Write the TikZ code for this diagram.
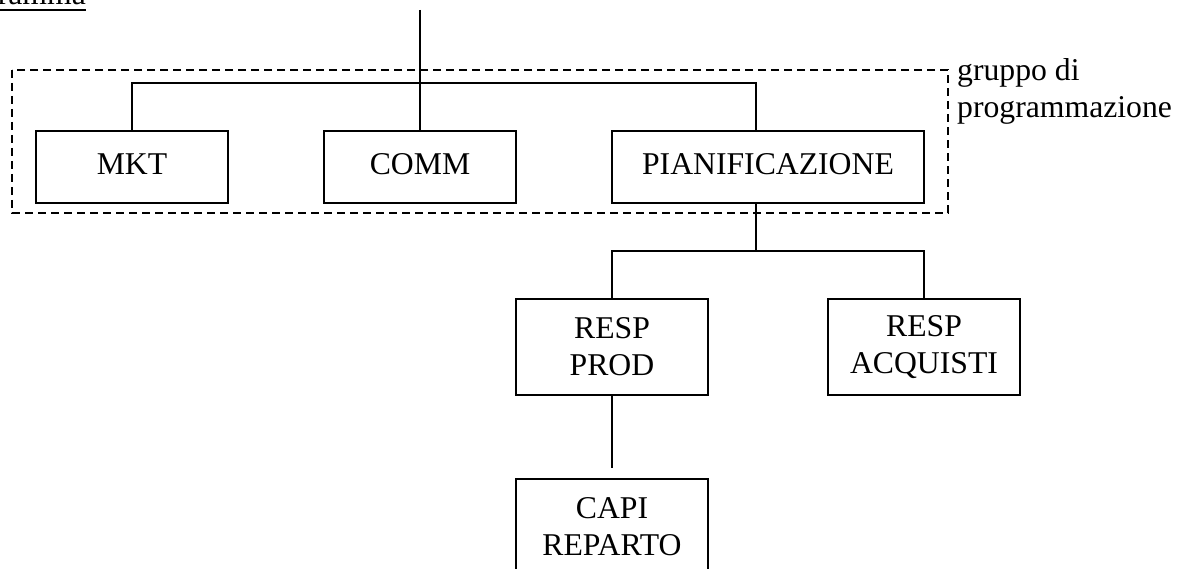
\documentclass[tikz,border=0pt]{standalone}
\usepackage{fontspec}
\setmainfont{Liberation Serif}
\usepackage{tikz}
\usetikzlibrary{positioning, calc}
\newcommand{\chartfont}{\fontsize{31.7pt}{37pt}\selectfont}
\tikzset{
  block/.style={rectangle, draw=black, minimum width=192pt, minimum height=72pt,
    inner sep=0pt, outer sep=0pt, align=center, font=\chartfont, line width=2pt},
  tallblock/.style={block, minimum height=96pt},
  sidetext/.style={inner sep=0pt, align=left, font=\chartfont},
  groupbox/.style={draw=black, dash pattern=on 8pt off 5pt, line width=1.5pt},
  line/.style={line width=1.5pt, color=black}
}

\begin{document}
\begin{tikzpicture}[x=1pt, y=-1pt]
  \useasboundingbox (0,0) rectangle (1186,569);

  % heading, cut by the page edge
  \node[anchor=base east, inner sep=0pt, font=\chartfont] (title) at (86,5) {Organigramma};
  \draw[line width=2pt] ($(title.base west)+(0,5)$) -- ($(title.base east)+(0,5)$);

  % first level
  \node[block] (mkt) at (132,167) {MKT\strut};
  \node[block, right=96pt of mkt] (comm) {COMM\strut};
  \node[block, minimum width=312pt, right=96pt of comm] (pianif) {PIANIFICAZIONE\strut};

  % programming group
  \draw[groupbox] ($(mkt.north west)+(-24,-61)$) rectangle ($(pianif.south east)+(24,10)$);
  \node[sidetext, anchor=north west] (grp) at (957,58) {gruppo di\\programmazione};

  % second and third level
  \node[tallblock, below=96pt of pianif.south west] (rprod) {RESP\\PROD};
  \node[tallblock, right=120pt of rprod] (racq) {RESP\\ACQUISTI};
  \node[tallblock, below=84pt of rprod] (capi) {CAPI\\REPARTO};

  % links
  \coordinate (topend) at (420,10);
  \coordinate (pup) at ($(pianif.north west)+(144,0)$);
  \coordinate (pdown) at ($(pianif.south west)+(144,0)$);
  \coordinate (capitop) at ($(capi.north)+(0,-11)$);

  \draw[line] (topend) -- (comm.north);
  \draw[line] (mkt.north) -- ++(0,-48) -| (pup);
  \draw[line] (pdown) -- ++(0,48) -| (rprod.north);
  \draw[line] (pdown) ++(0,48) -| (racq.north);
  \draw[line] (rprod.south) -- (capitop);
\end{tikzpicture}
\end{document}
